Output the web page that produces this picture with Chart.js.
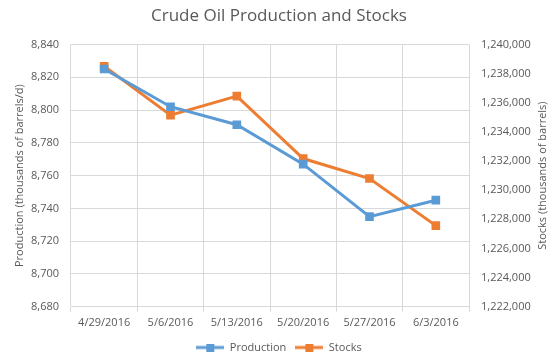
<!DOCTYPE html>
<html><head><meta charset="utf-8">
<script src="https://cdn.jsdelivr.net/npm/chart.js@4/dist/chart.umd.min.js"></script>
<style>html,body{margin:0;padding:0;background:#fff}#wrap{width:558px;height:359px}</style>
</head><body><div id="wrap"><canvas id="c" width="558" height="359"></canvas></div>
<script>
const categories = ["4/29/2016","5/6/2016","5/13/2016","5/20/2016","5/27/2016","6/3/2016"];
const production = [8825, 8802, 8791, 8767, 8735, 8745];
const stocks = [1238500, 1235150, 1236450, 1232170, 1230800, 1227570];
const leftTicks = [8680, 8840, 20];
const rightTicks = [1222000, 1240000, 2000];
const leftTitle = "Production (thousands of barrels/d)";
const rightTitle = "Stocks (thousands of barrels)";

const BLUE = "#5B9BD5", ORANGE = "#ED7D31", TXT = "#595959", GRID = "#D9D9D9";
const FONT = "'Open Sans', 'Liberation Sans', sans-serif";

function legendIcon(color){
  const c = document.createElement("canvas");
  c.width = 28; c.height = 8;
  const x = c.getContext("2d");
  x.strokeStyle = color; x.lineWidth = 3;
  x.beginPath(); x.moveTo(0,4); x.lineTo(28,4); x.stroke();
  x.fillStyle = color; x.fillRect(10,0,8,8);
  return c;
}
const fmt = v => v.toLocaleString("en-US");

// both axis titles read bottom-to-top, as in the reference
const axisTitlePlugin = {
  id: "axisTitles",
  afterDraw(chart){
    const ctx = chart.ctx;
    const draw = (text, x, s) => {
      ctx.save();
      ctx.font = "11px " + FONT;
      ctx.fillStyle = TXT;
      ctx.textAlign = "center"; ctx.textBaseline = "middle";
      ctx.translate(x, (s.top + s.bottom) / 2);
      ctx.rotate(-Math.PI / 2);
      ctx.fillText(text, 0, 0);
      ctx.restore();
    };
    draw(leftTitle, chart.scales.y.left + 20, chart.scales.y);
    draw(rightTitle, chart.scales.y2.right - 15, chart.scales.y2);
  }
};

new Chart(document.getElementById("c"), {
  type: "line",
  data: {
    labels: categories,
    datasets: [
      {label:"Production", data: production, yAxisID:"y", borderColor:BLUE, backgroundColor:BLUE,
       borderWidth:3, pointStyle:"rect", pointRadius:4, pointHoverRadius:4, tension:0},
      {label:"Stocks", data: stocks, yAxisID:"y2", borderColor:ORANGE, backgroundColor:ORANGE,
       borderWidth:3, pointStyle:"rect", pointRadius:4, pointHoverRadius:4, tension:0}
    ]
  },
  plugins:[axisTitlePlugin],
  options: {
    responsive:false, animation:false, devicePixelRatio:1,
    layout:{padding:{left:0,right:0,top:0,bottom:-4}},
    plugins:{
      title:{display:true, text:"Crude Oil Production and Stocks", color:TXT,
        font:{family:FONT, size:17, weight:"normal"}, padding:{top:6,bottom:18}},
      legend:{position:"bottom", labels:{
        color:TXT, font:{family:FONT,size:11}, usePointStyle:true, pointStyleWidth:28, boxHeight:8, padding:9,
        generateLabels(chart){
          return chart.data.datasets.map((d,i)=>({text:d.label, fillStyle:d.borderColor, strokeStyle:d.borderColor,
            pointStyle:legendIcon(d.borderColor), datasetIndex:i, hidden:false, fontColor:TXT, lineWidth:0}));
        }}},
      tooltip:{enabled:false}
    },
    scales:{
      x:{offset:true, grid:{offset:true, color:GRID, tickLength:5, tickColor:GRID},
         border:{color:GRID},
         ticks:{color:TXT, font:{family:FONT,size:11}, maxRotation:0, padding:4}},
      y:{position:"left", min:leftTicks[0], max:leftTicks[1],
         afterFit(s){ s.width = 71; },
         grid:{color:GRID, tickLength:0, drawTicks:false}, border:{display:false},
         ticks:{stepSize:leftTicks[2], color:TXT, font:{family:FONT,size:11}, padding:12, callback:v=>fmt(v)}},
      y2:{position:"right", min:rightTicks[0], max:rightTicks[1],
         afterFit(s){ s.width = 89; },
         grid:{display:false, drawTicks:false}, border:{display:false},
         ticks:{stepSize:rightTicks[2], color:TXT, font:{family:FONT,size:11}, padding:12, callback:v=>fmt(v)}}
    }
  }
});
</script></body></html>
